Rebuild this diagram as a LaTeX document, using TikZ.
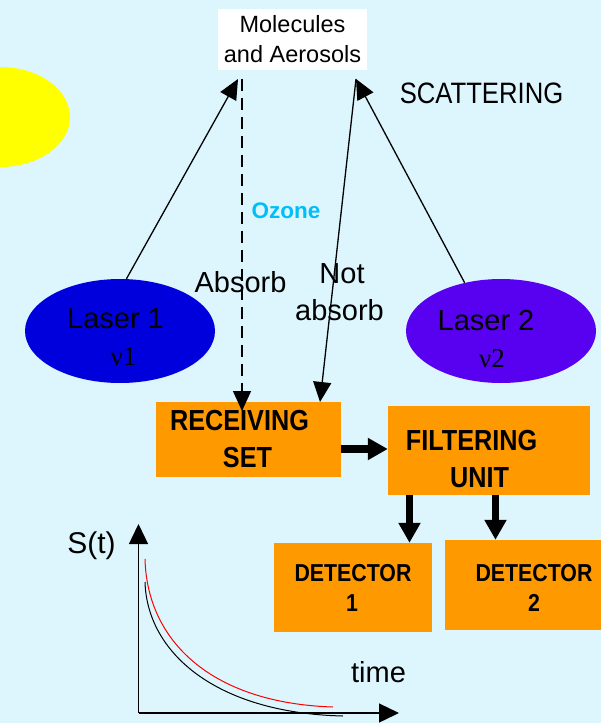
\documentclass[tikz,border=0pt]{standalone}
\usepackage{fontspec}
\setmainfont{Liberation Sans}
\newfontfamily\condsf[FakeStretch=0.87]{Liberation Sans}
\newfontfamily\greekserif{Liberation Serif}
\usetikzlibrary{arrows.meta,shapes.geometric,calc}
\definecolor{sky}{RGB}{221,245,253}
\definecolor{sun}{RGB}{255,255,0}
\definecolor{laserA}{RGB}{0,0,220}
\definecolor{laserB}{RGB}{88,0,240}
\definecolor{boxorange}{RGB}{255,153,0}
\definecolor{ozonecyan}{RGB}{0,190,250}
\begin{document}
\begin{tikzpicture}[x=1pt,y=-1pt,
  txt/.style={inner sep=0pt, anchor=base},
  body/.style={font=\fontsize{29pt}{34pt}\selectfont},
  greek/.style={font=\greekserif\fontsize{27pt}{30pt}\selectfont},
  boxlabel/.style={font=\condsf\bfseries\fontsize{#1}{34pt}\selectfont},
  unit/.style={fill=boxorange, inner sep=0pt},
  laser/.style={ellipse, inner sep=0pt, minimum width=190pt, minimum height=104pt},
  thinarrow/.style={line width=1.3pt, -{Triangle[length=20pt,width=18pt]}},
  thickarrow/.style={line width=7.5pt, -{Triangle[length=20pt,width=21pt]}},
  axisarrow/.style={line width=1.3pt, -{Triangle[length=20pt,width=19pt]}},
  decay/.style={line width=1pt}]

% background and sun
\fill[sky] (0,0) rectangle (601,723);
\useasboundingbox (0,0) rectangle (601,723);
\fill[sun] (0,117) ellipse [x radius=70, y radius=50];

% scattering volume
\node[fill=white, inner sep=0pt, minimum width=149pt, minimum height=61pt,
      align=center, font=\fontsize{23.5pt}{30pt}\selectfont]
      (mol) at (292.5,39.5) {Molecules\\and Aerosols};
\node[txt, font=\condsf\fontsize{29.5pt}{34pt}\selectfont] (scat) at (481.5,103) {SCATTERING};

% lasers
\node[laser, fill=laserA] (laser1) at (120,331) {};
\node[laser, fill=laserB] (laser2) at (501,331) {};
\node[txt, body] (l1name) at (115.5,328) {Laser 1};
\node[txt, greek] (l1nu) at (123.5,365) {ν1};
\node[txt, body] (l2name) at (486,330) {Laser 2};
\node[txt, greek] (l2nu) at (492,367) {ν2};

% processing units
\node[unit, minimum width=185pt, minimum height=75pt] (rec) at (248.5,439.5) {};
\node[unit, minimum width=202pt, minimum height=89pt] (filt) at (489,450.5) {};
\node[unit, minimum width=158pt, minimum height=89pt] (det1) at (353,587.5) {};
\node[unit, minimum width=156pt, minimum height=90pt] (det2) at (523,585) {};
\node[txt, boxlabel=29pt] (recA) at (239.5,430) {RECEIVING};
\node[txt, boxlabel=29pt] (recB) at (247.5,467) {SET};
\node[txt, boxlabel=29pt] (filtA) at (471.5,450) {FILTERING};
\node[txt, boxlabel=29pt] (filtB) at (479.5,487) {UNIT};
\node[txt, boxlabel=24.5pt] (det1A) at (353,581) {DETECTOR};
\node[txt, boxlabel=24.5pt] (det1B) at (352,611) {1};
\node[txt, boxlabel=24.5pt] (det2A) at (534,581) {DETECTOR};
\node[txt, boxlabel=24.5pt] (det2B) at (534,611) {2};

% path labels
\node[txt, text=ozonecyan, font=\bfseries\fontsize{22.5pt}{26pt}\selectfont] (ozone) at (286,218) {Ozone};
\node[txt, body] (absorb) at (240.5,292) {Absorb};
\node[txt, body] (notA) at (342,283) {Not};
\node[txt, body] (notB) at (339.5,320) {absorb};

% beam ends
\coordinate (upL) at (238,79);
\coordinate (upR) at (356,79);
\coordinate (dTop) at (242,79);
\coordinate (dBot) at (242,411);
\coordinate (nBot) at (320,402);
\coordinate (linkY) at (0,449);
\coordinate (drop1) at (409.5,0);
\coordinate (drop2) at (495.5,0);

% beams
\draw[thinarrow] (laser1.83) -- (upL);
\draw[thinarrow] (laser2.127.7) -- (upR);
\draw[thinarrow, dash pattern=on 12pt off 7pt] (dTop) -- (dBot);
\draw[thinarrow] (upR) -- (nBot);

% signal chain
\draw[thickarrow] (rec.east |- linkY) -- (filt.west |- linkY);
\draw[thickarrow] (filt.south -| drop1) -- (det1.north -| drop1);
\draw[thickarrow] (filt.south -| drop2) -- (det2.north -| drop2);

% return signal plot
\coordinate (origin) at (138.5,713);
\coordinate (ytip) at (138.5,524);
\coordinate (xtip) at (399,713);
\draw[axisarrow] (origin) -- (ytip);
\draw[axisarrow] (origin) -- (xtip);
\node[txt, font=\fontsize{30pt}{32pt}\selectfont] (slabel) at (91.5,553) {S(t)};
\node[txt, font=\fontsize{29pt}{32pt}\selectfont] (tlabel) at (378.5,682) {time};
\draw[decay, red] (145,559) .. controls (147,640) and (210,703) .. (333,707);
\draw[decay, black] (145,582) .. controls (147,652) and (215,713) .. (343,716);
\end{tikzpicture}
\end{document}
